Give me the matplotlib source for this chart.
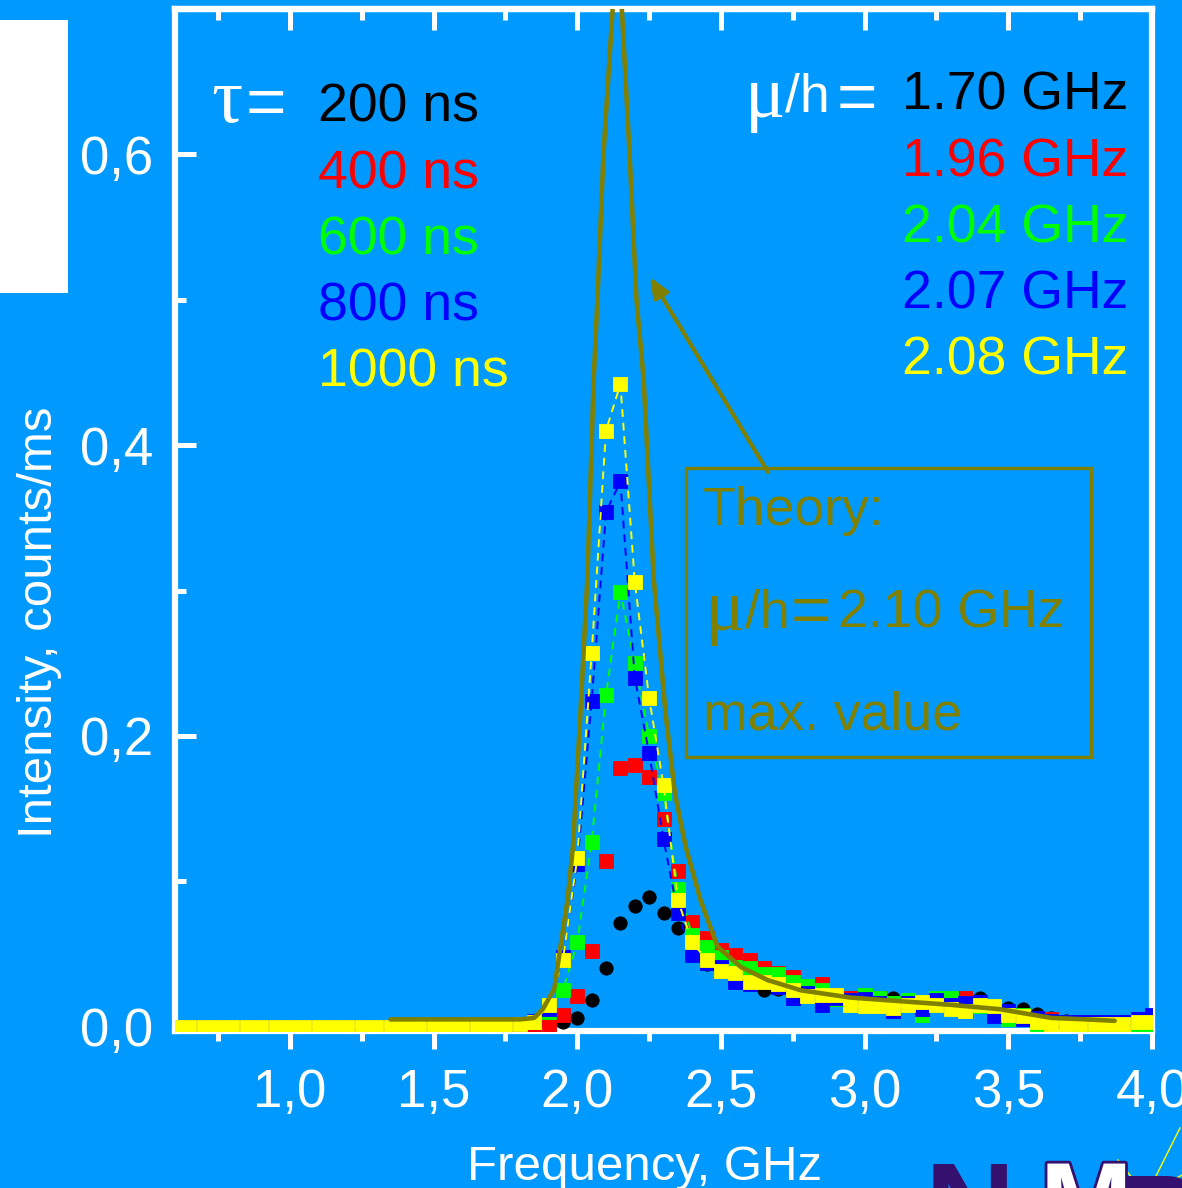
import numpy as np
import matplotlib
matplotlib.use('Agg')
import matplotlib.pyplot as plt
from matplotlib.ticker import MultipleLocator, FuncFormatter
from matplotlib.patches import Rectangle, FancyArrowPatch
import matplotlib.patheffects as pe

W, H = 1182, 1188
BG = '#0099ff'
OLIVE = '#808000'
SANS = 'Liberation Sans'
SERIF = 'Liberation Serif'

# frequency grid, GHz (0.60 ... 4.00 in 0.05 steps)
freq = np.round(np.arange(0.60, 4.0001, 0.05), 2)

# measured intensity, counts/ms; flat zero below 1.80 GHz
flat = [0.0] * 24
int_200 = flat + [0.000, 0.000, 0.001, 0.003, 0.006, 0.018, 0.040, 0.071, 0.083, 0.089,
                  0.078, 0.068, 0.052, 0.043, 0.038, 0.031, 0.030, 0.025, 0.026, 0.024,
                  0.023, 0.020, 0.020, 0.020, 0.019, 0.018, 0.020, 0.017, 0.016, 0.016,
                  0.015, 0.016, 0.020, 0.013, 0.013, 0.012, 0.009, 0.006, 0.004, 0.003,
                  0.002, 0.002, 0.002, 0.002, 0.002]
int_400 = flat + [0.000, 0.000, 0.001, 0.008, 0.021, 0.052, 0.114, 0.178, 0.180, 0.172,
                  0.143, 0.107, 0.072, 0.061, 0.053, 0.049, 0.046, 0.040, 0.037, 0.034,
                  0.027, 0.029, 0.022, 0.020, 0.019, 0.020, 0.016, 0.017, 0.015, 0.016,
                  0.017, 0.020, 0.016, 0.013, 0.010, 0.008, 0.004, 0.005, 0.003, 0.003,
                  0.003, 0.002, 0.003, 0.005, 0.004]
int_600 = flat + [0.001, 0.003, 0.010, 0.025, 0.058, 0.127, 0.228, 0.299, 0.250, 0.200,
                  0.161, 0.095, 0.063, 0.055, 0.048, 0.041, 0.040, 0.036, 0.036, 0.031,
                  0.028, 0.025, 0.019, 0.018, 0.022, 0.020, 0.016, 0.018, 0.008, 0.020,
                  0.020, 0.016, 0.014, 0.012, 0.005, 0.008, 0.002, 0.004, 0.003, 0.002,
                  0.002, 0.002, 0.002, 0.002, 0.002]
int_800 = flat + [0.002, 0.004, 0.012, 0.048, 0.112, 0.224, 0.354, 0.375, 0.240, 0.188,
                  0.129, 0.078, 0.049, 0.044, 0.041, 0.031, 0.029, 0.031, 0.027, 0.020,
                  0.023, 0.015, 0.020, 0.018, 0.019, 0.016, 0.011, 0.016, 0.012, 0.018,
                  0.015, 0.016, 0.017, 0.007, 0.011, 0.005, 0.006, 0.004, 0.003, 0.003,
                  0.003, 0.003, 0.003, 0.005, 0.008]
int_1000 = flat + [0.002, 0.003, 0.015, 0.046, 0.116, 0.257, 0.410, 0.442, 0.306, 0.226,
                   0.166, 0.087, 0.058, 0.046, 0.038, 0.037, 0.031, 0.031, 0.029, 0.025,
                   0.021, 0.022, 0.022, 0.015, 0.014, 0.014, 0.013, 0.015, 0.017, 0.015,
                   0.012, 0.011, 0.015, 0.014, 0.008, 0.007, 0.003, 0.002, 0.002, 0.002,
                   0.002, 0.002, 0.002, 0.003, 0.003]

# theory curve for mu/h = 2.10 GHz
theory_f = [1.35, 1.60, 1.80, 1.85, 1.88, 1.92, 1.94, 1.966, 1.985, 2.011, 2.035, 2.057,
            2.070, 2.091, 2.123, 2.139, 2.155, 2.182, 2.206, 2.231, 2.266, 2.307, 2.340,
            2.377, 2.429, 2.488, 2.569, 2.663, 2.778, 2.95, 3.30, 3.47, 3.65, 3.77, 3.87]
theory_i = [0.005, 0.005, 0.005, 0.006, 0.012, 0.026, 0.053, 0.087, 0.124, 0.216, 0.308,
            0.445, 0.50, 0.60, 0.70, 0.75, 0.70, 0.60, 0.50, 0.445, 0.308, 0.216, 0.160,
            0.124, 0.087, 0.055, 0.041, 0.032, 0.025, 0.020, 0.015, 0.012, 0.006, 0.005,
            0.004]

taus = ['200 ns', '400 ns', '600 ns', '800 ns', '1000 ns']
mus = ['1.70 GHz', '1.96 GHz', '2.04 GHz', '2.07 GHz', '2.08 GHz']
colors = ['black', '#ff0000', '#00ff00', '#0000ff', '#ffff00']
series = [int_200, int_400, int_600, int_800, int_1000]
markers = ['o', 's', 's', 's', 's']
dashed = [False, False, True, True, True]

fig = plt.figure(figsize=(W / 100, H / 100), dpi=100, facecolor=BG)


def fx(px):
    return px / W


def fy(py):
    return 1 - py / H


ax = fig.add_axes([fx(175), fy(1031), (1152 - 175) / W, (1031 - 9) / H])
ax.set_facecolor(BG)

for vals, c, m, d in zip(series, colors, markers, dashed):
    if d:
        ax.plot(freq, vals, ls='--', dashes=(4, 3), lw=1.4, color=c,
                marker=m, ms=9.6, mec=c, mew=0.6, zorder=3)
    else:
        ax.plot(freq, vals, ls='none', color=c, marker=m, ms=9.6, mec=c, mew=0.6,
                zorder=3)

ax.plot(theory_f, theory_i, color=OLIVE, lw=3.3, zorder=5, solid_capstyle='round')

ax.set_xlim(0.6, 4.0)
ax.set_ylim(-0.003, 0.70)

fmt = FuncFormatter(lambda v, p: f'{v:.1f}'.replace('.', ','))
ax.xaxis.set_major_locator(MultipleLocator(0.5))
ax.xaxis.set_minor_locator(MultipleLocator(0.25))
ax.yaxis.set_major_locator(MultipleLocator(0.2))
ax.yaxis.set_minor_locator(MultipleLocator(0.1))
ax.xaxis.set_major_formatter(fmt)
ax.yaxis.set_major_formatter(fmt)

for s in ax.spines.values():
    s.set_color('white')
    s.set_linewidth(4.5)

ax.tick_params(axis='x', which='both', direction='out', colors='white', width=3.6,
               bottom=True, top=False, labelsize=38, pad=14)
ax.tick_params(axis='x', which='major', length=13)
ax.tick_params(axis='x', which='minor', length=7)
ax.tick_params(axis='y', which='both', direction='in', colors='white', width=3.6,
               left=True, right=False, labelsize=38, pad=16)
ax.tick_params(axis='y', which='major', length=15)
ax.tick_params(axis='y', which='minor', length=8)
for lab in ax.get_xticklabels() + ax.get_yticklabels():
    lab.set_family(SANS)

# inward ticks along the top edge
top = ax.secondary_xaxis('top')
top.xaxis.set_major_locator(MultipleLocator(0.5))
top.xaxis.set_minor_locator(MultipleLocator(0.25))
top.tick_params(which='both', direction='in', colors='white', width=3.6, labeltop=False)
top.tick_params(which='major', length=15)
top.tick_params(which='minor', length=8)
top.spines['top'].set_color('white')
top.spines['top'].set_linewidth(4.5)

fig.text(fx(40), fy(622), 'Intensity, counts/ms', rotation=90, ha='center', va='center',
         color='white', fontsize=35.5, family=SANS)
fig.text(fx(645), fy(1180), 'Frequency, GHz', ha='center', va='baseline',
         color='white', fontsize=35.5, family=SANS)

# pulse length column
fig.text(fx(211), fy(122), 'τ', color='white', fontsize=56, family=SERIF, va='baseline')
fig.text(fx(246), fy(125), '=', color='white', fontsize=50, family=SANS, va='baseline')
for i, (t, c) in enumerate(zip(taus, colors)):
    fig.text(fx(318), fy(122 + 66.2 * i), t, color=c, fontsize=38.5, family=SANS,
             va='baseline', ha='left')

# coupling column
fig.text(fx(745), fy(117), 'μ', color='white', fontsize=54, family=SERIF, va='baseline')
fig.text(fx(785), fy(112), '/h', color='white', fontsize=38.5, family=SANS, va='baseline')
fig.text(fx(837), fy(120), '=', color='white', fontsize=50, family=SANS, va='baseline')
for i, (t, c) in enumerate(zip(mus, colors)):
    fig.text(fx(1128), fy(110 + 66.2 * i), t, color=c, fontsize=38.5, family=SANS,
             va='baseline', ha='right')

# theory annotation box with arrow to the peak
fig.patches.append(Rectangle((fx(686), fy(757)), (1091 - 686) / W, (757 - 468) / H,
                             transform=fig.transFigure, fill=False, ec=OLIVE, lw=2.4))
fig.text(fx(703), fy(525), 'Theory:', color=OLIVE, fontsize=38.5, family=SANS, va='baseline')
fig.text(fx(705), fy(630), 'μ', color=OLIVE, fontsize=54, family=SERIF, va='baseline')
fig.text(fx(745), fy(628), '/h', color=OLIVE, fontsize=38.5, family=SANS, va='baseline')
fig.text(fx(791), fy(633), '=', color=OLIVE, fontsize=50, family=SANS, va='baseline')
fig.text(fx(838), fy(628), '2.10 GHz', color=OLIVE, fontsize=38.5, family=SANS,
         va='baseline')
fig.text(fx(703), fy(730), 'max. value', color=OLIVE, fontsize=38.5, family=SANS,
         va='baseline')
fig.add_artist(FancyArrowPatch(
    (fx(768), fy(472)), (fx(650), fy(277)), transform=fig.transFigure,
    arrowstyle='-|>,head_length=12,head_width=5', color=OLIVE, lw=3, shrinkA=0, shrinkB=0))

# slide decorations
fig.patches.append(Rectangle((0, fy(293)), fx(68), (293 - 20) / H,
                             transform=fig.transFigure, color='white', lw=0))
PURPLE = '#35106e'
fig.text(fx(925), fy(1250), 'N', color=PURPLE, fontsize=90, family=SANS,
         fontweight='bold', va='baseline')
fig.text(fx(1040), fy(1240), 'M', color='white', fontsize=80, family=SANS,
         fontweight='bold', va='baseline',
         path_effects=[pe.withStroke(linewidth=4, foreground=PURPLE)])
fig.text(fx(1120), fy(1252), 'R', color=PURPLE, fontsize=80, family=SANS,
         fontweight='bold', va='baseline')
for (x0, y0, x1, y1) in [(1150, 1188, 1180, 1128), (1160, 1188, 1182, 1175),
                         (1140, 1188, 1118, 1160)]:
    fig.add_artist(plt.Line2D([fx(x0), fx(x1)], [fy(y0), fy(y1)], color='yellow', lw=1,
                              transform=fig.transFigure))

fig.savefig('out.png', dpi=100, facecolor=BG)
